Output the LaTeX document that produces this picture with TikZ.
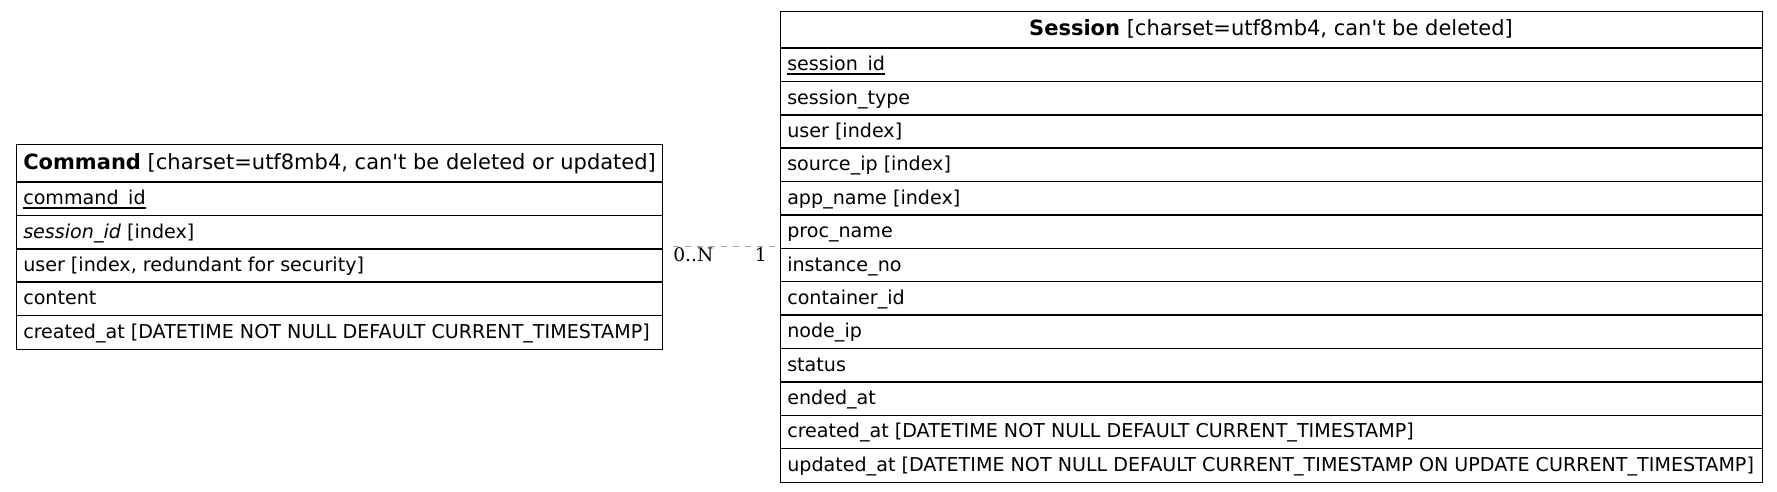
\documentclass[tikz,border=0pt]{standalone}
\usepackage{fontspec}
\setmainfont{DejaVu Sans}[Ligatures=TeXOff]
\newfontfamily\lblfont{DejaVu Serif}
\newcommand\myul[1]{\setbox0\hbox{#1}\rlap{\rule[-0.2em]{\wd0}{0.06em}}\box0}
\begin{document}
\begin{tikzpicture}[x=0.75pt,y=-0.75pt,
  tbl/.style={draw=black, line width=0.8pt, inner sep=0pt, anchor=north west},
  sepline/.style={draw=black, line width=1.1pt},
  rowtext/.style={anchor=base west, inner sep=0pt, font=\fontsize{14.33}{16}\selectfont},
  hdrtext/.style={inner sep=0pt, font=\fontsize{15.75}{18}\selectfont},
  lbl/.style={inner sep=0pt, font=\lblfont\fontsize{14}{16}\selectfont},
  edgeline/.style={draw=black!35, line width=0.8pt, dash pattern=on 4.5pt off 4.5pt}]
\useasboundingbox (0,0) rectangle (1777,492);
% tables
\node[tbl, minimum width=484.5pt, minimum height=153.75pt] (command) at (16,144) {};
\node[tbl, minimum width=736.5pt, minimum height=353.25pt] (session) at (780,11) {};
% command separators
\foreach \i in {0,...,4} \draw[sepline] (16,{182+33.4*\i}) -- (662,{182+33.4*\i});
% session separators
\foreach \i in {0,...,12} \draw[sepline] (780,{48+33.385*\i}) -- (1762,{48+33.385*\i});
% command text
\node[hdrtext, anchor=base west] (chdr) at (23,169.5) {\textbf{Command} [charset=utf8mb4, can't be deleted or updated]};
\node[rowtext] (c1) at (23,{182+33.4*0.5+6}) {\myul{command\_id}};
\node[rowtext] (c2) at (23,{182+33.4*1.5+6}) {\textit{session\_id} [index]};
\node[rowtext] (c3) at (23,{182+33.4*2.5+6}) {user [index, redundant for security]};
\node[rowtext] (c4) at (23,{182+33.4*3.5+6}) {content};
\node[rowtext] (c5) at (23,{182+33.4*4.5+6}) {created\_at [DATETIME NOT NULL DEFAULT CURRENT\_TIMESTAMP]};
% session text
\node[hdrtext, anchor=base] (shdr) at (1271,36) {\textbf{Session} [charset=utf8mb4, can't be deleted]};
\node[rowtext] (s1) at (787,{48+33.385*0.5+6}) {\myul{session\_id}};
\node[rowtext] (s2) at (787,{48+33.385*1.5+6}) {session\_type};
\node[rowtext] (s3) at (787,{48+33.385*2.5+6}) {user [index]};
\node[rowtext] (s4) at (787,{48+33.385*3.5+6}) {source\_ip [index]};
\node[rowtext] (s5) at (787,{48+33.385*4.5+6}) {app\_name [index]};
\node[rowtext] (s6) at (787,{48+33.385*5.5+6}) {proc\_name};
\node[rowtext] (s7) at (787,{48+33.385*6.5+6}) {instance\_no};
\node[rowtext] (s8) at (787,{48+33.385*7.5+6}) {container\_id};
\node[rowtext] (s9) at (787,{48+33.385*8.5+6}) {node\_ip};
\node[rowtext] (s10) at (787,{48+33.385*9.5+6}) {status};
\node[rowtext] (s11) at (787,{48+33.385*10.5+6}) {ended\_at};
\node[rowtext] (s12) at (787,{48+33.385*11.5+6}) {created\_at [DATETIME NOT NULL DEFAULT CURRENT\_TIMESTAMP]};
\node[rowtext] (s13) at (787,{48+33.385*12.5+6}) {updated\_at [DATETIME NOT NULL DEFAULT CURRENT\_TIMESTAMP ON UPDATE CURRENT\_TIMESTAMP]};
% relation
\draw[edgeline, shorten <=7.5pt, shorten >=1pt] ([yshift=0.6pt]command.east) -- ([yshift=0.6pt]session.west);
\node[lbl, anchor=base west] (taillbl) at (673,261) {0..N};
\node[lbl, anchor=base east] (headlbl) at (767,261) {1};
\end{tikzpicture}
\end{document}
